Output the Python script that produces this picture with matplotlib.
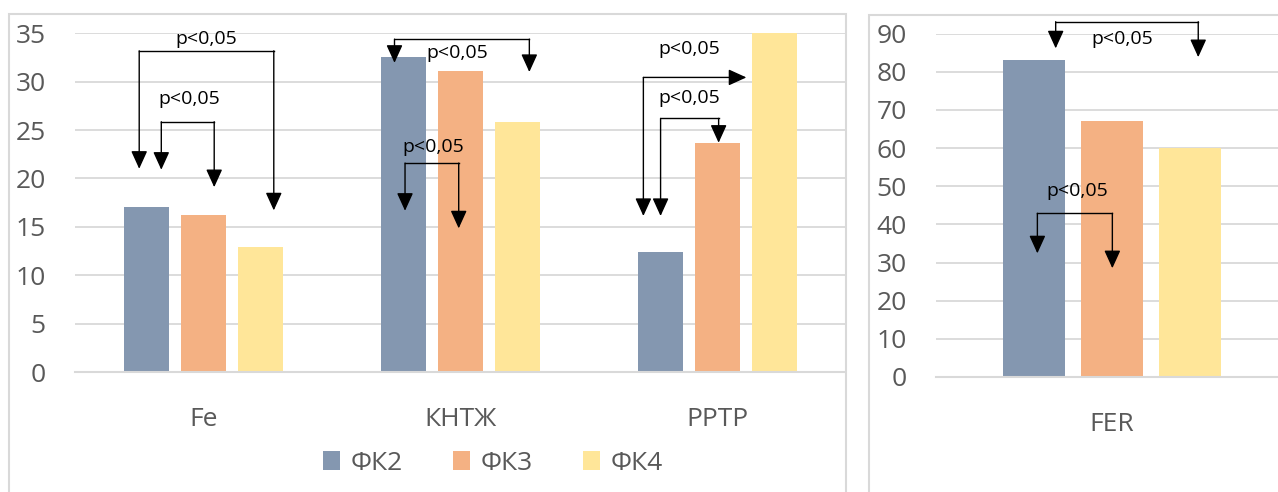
import matplotlib.pyplot as plt
import numpy as np
from matplotlib.patches import Rectangle

plt.rcParams["font.family"] = ["Open Sans", "DejaVu Sans"]

# bar values per group
series_names = ["ФК2", "ФК3", "ФК4"]
left_categories = ["Fe", "КНТЖ", "РРТР"]
fk2_left = [17.1, 32.6, 12.4]
fk3_left = [16.2, 31.1, 23.7]
fk4_left = [12.9, 25.8, 35.0]

right_categories = ["FER"]
fk2_right = [83.0]
fk3_right = [67.1]
fk4_right = [60.1]

left_yticks = [0, 5, 10, 15, 20, 25, 30, 35]
right_yticks = [0, 10, 20, 30, 40, 50, 60, 70, 80, 90]

# significance brackets: (x_left, x_right, bar_y, tip_left, tip_right, text_x, text_y)
left_brackets = [
    (-0.250, 0.274, 33.19, 21.0, 16.7, 0.01, 34.4),
    (-0.164, 0.042, 25.86, 20.9, 19.1, -0.056, 28.2),
    (0.744, 1.269, 34.40, 31.95, 31.0, 0.99, 33.0),
    (0.785, 0.994, 21.59, 16.66, 14.84, 0.894, 23.27),
    (1.780, 2.006, 26.21, 16.12, 23.69, 1.893, 28.27),
]
# bracket that ends in a horizontal arrow: (x, y, tip_down, tip_right, text_x, text_y)
left_side_bracket = (1.713, 30.44, 16.12, 2.114, 1.893, 33.34)

right_brackets = [
    (-0.160, 0.245, 93.09, 86.1, 83.8, 0.028, 88.5),
    (-0.212, 0.001, 42.89, 32.4, 28.5, -0.099, 48.8),
]

colors = ["#8497B0", "#F4B183", "#FFE699"]
grid_color = "#D9D9D9"
label_color = "#595959"

W, H = 1278, 492
BAR_W = 0.175
BAR_STEP = 0.222
P_SIZE = 14


def px_rect(x0, y0, x1, y1):
    return [x0 / W, 1 - y1 / H, (x1 - x0) / W, (y1 - y0) / H]


def style_axis(ax, yticks, ylim):
    ax.set_ylim(*ylim)
    ax.set_yticks(yticks)
    ax.yaxis.grid(True, color=grid_color, lw=1.3)
    ax.set_axisbelow(True)
    for side in ["left", "right", "top"]:
        ax.spines[side].set_visible(False)
    ax.spines["bottom"].set_color(grid_color)
    ax.spines["bottom"].set_linewidth(1.5)
    ax.tick_params(axis="y", length=0, pad=21, labelsize=19, labelcolor=label_color)
    ax.tick_params(axis="x", length=0, pad=25, labelsize=19, labelcolor=label_color)


def draw_bars(ax, categories, values):
    x = np.arange(len(categories))
    handles = []
    for i, vals in enumerate(values):
        h = ax.bar(x + (i - 1) * BAR_STEP, vals, width=BAR_W, color=colors[i],
                   label=series_names[i], zorder=2)
        handles.append(h)
    ax.set_xticks(x)
    ax.set_xticklabels(categories)
    ax.set_xlim(-0.5, len(categories) - 0.5)
    return handles


def arrow(ax, start, end):
    ax.annotate("", xy=end, xytext=start, annotation_clip=False,
                arrowprops=dict(arrowstyle="-|>,head_length=1.1,head_width=0.5",
                                mutation_scale=10, color="black", lw=1.0,
                                shrinkA=0, shrinkB=0), zorder=5)


def draw_bracket(ax, xl, xr, y, tl, tr, tx, ty):
    ax.plot([xl, xr], [y, y], color="black", lw=1.0, clip_on=False, zorder=5)
    arrow(ax, (xl, y), (xl, tl))
    arrow(ax, (xr, y), (xr, tr))
    ax.text(tx, ty, "p<0,05", ha="center", va="center", fontsize=P_SIZE,
            color="black", zorder=6)


fig = plt.figure(figsize=(W / 100, H / 100), dpi=100)

# chart frames
fig.patches.append(Rectangle((9 / W, -0.1), (846 - 9) / W, 1.1 - 14 / H,
                             transform=fig.transFigure, fill=False,
                             edgecolor=grid_color, lw=1.5))
fig.patches.append(Rectangle((869 / W, -0.1), 0.5, 1.1 - 15 / H,
                             transform=fig.transFigure, fill=False,
                             edgecolor=grid_color, lw=1.5))

ax1 = fig.add_axes(px_rect(75, 33.3, 845.5, 372))
handles = draw_bars(ax1, left_categories, [fk2_left, fk3_left, fk4_left])
style_axis(ax1, left_yticks, (0, 35))
for b in left_brackets:
    draw_bracket(ax1, *b)
sx, sy, sdown, sright, stx, sty = left_side_bracket
arrow(ax1, (sx, sy), (sx, sdown))
arrow(ax1, (sx, sy), (sright, sy))
ax1.text(stx, sty, "p<0,05", ha="center", va="center", fontsize=P_SIZE, color="black")

ax2 = fig.add_axes(px_rect(936, 33.5, 1288, 377))
draw_bars(ax2, right_categories, [fk2_right, fk3_right, fk4_right])
style_axis(ax2, right_yticks, (0, 90))
for b in right_brackets:
    draw_bracket(ax2, *b)

fig.legend(handles=handles, loc="center", bbox_to_anchor=(493 / W, 1 - 463 / H),
           ncol=3, frameon=False, fontsize=19, handlelength=0.65, handleheight=0.75,
           handletextpad=0.4, columnspacing=1.9, labelcolor=label_color)

fig.savefig("out.png", dpi=100)
